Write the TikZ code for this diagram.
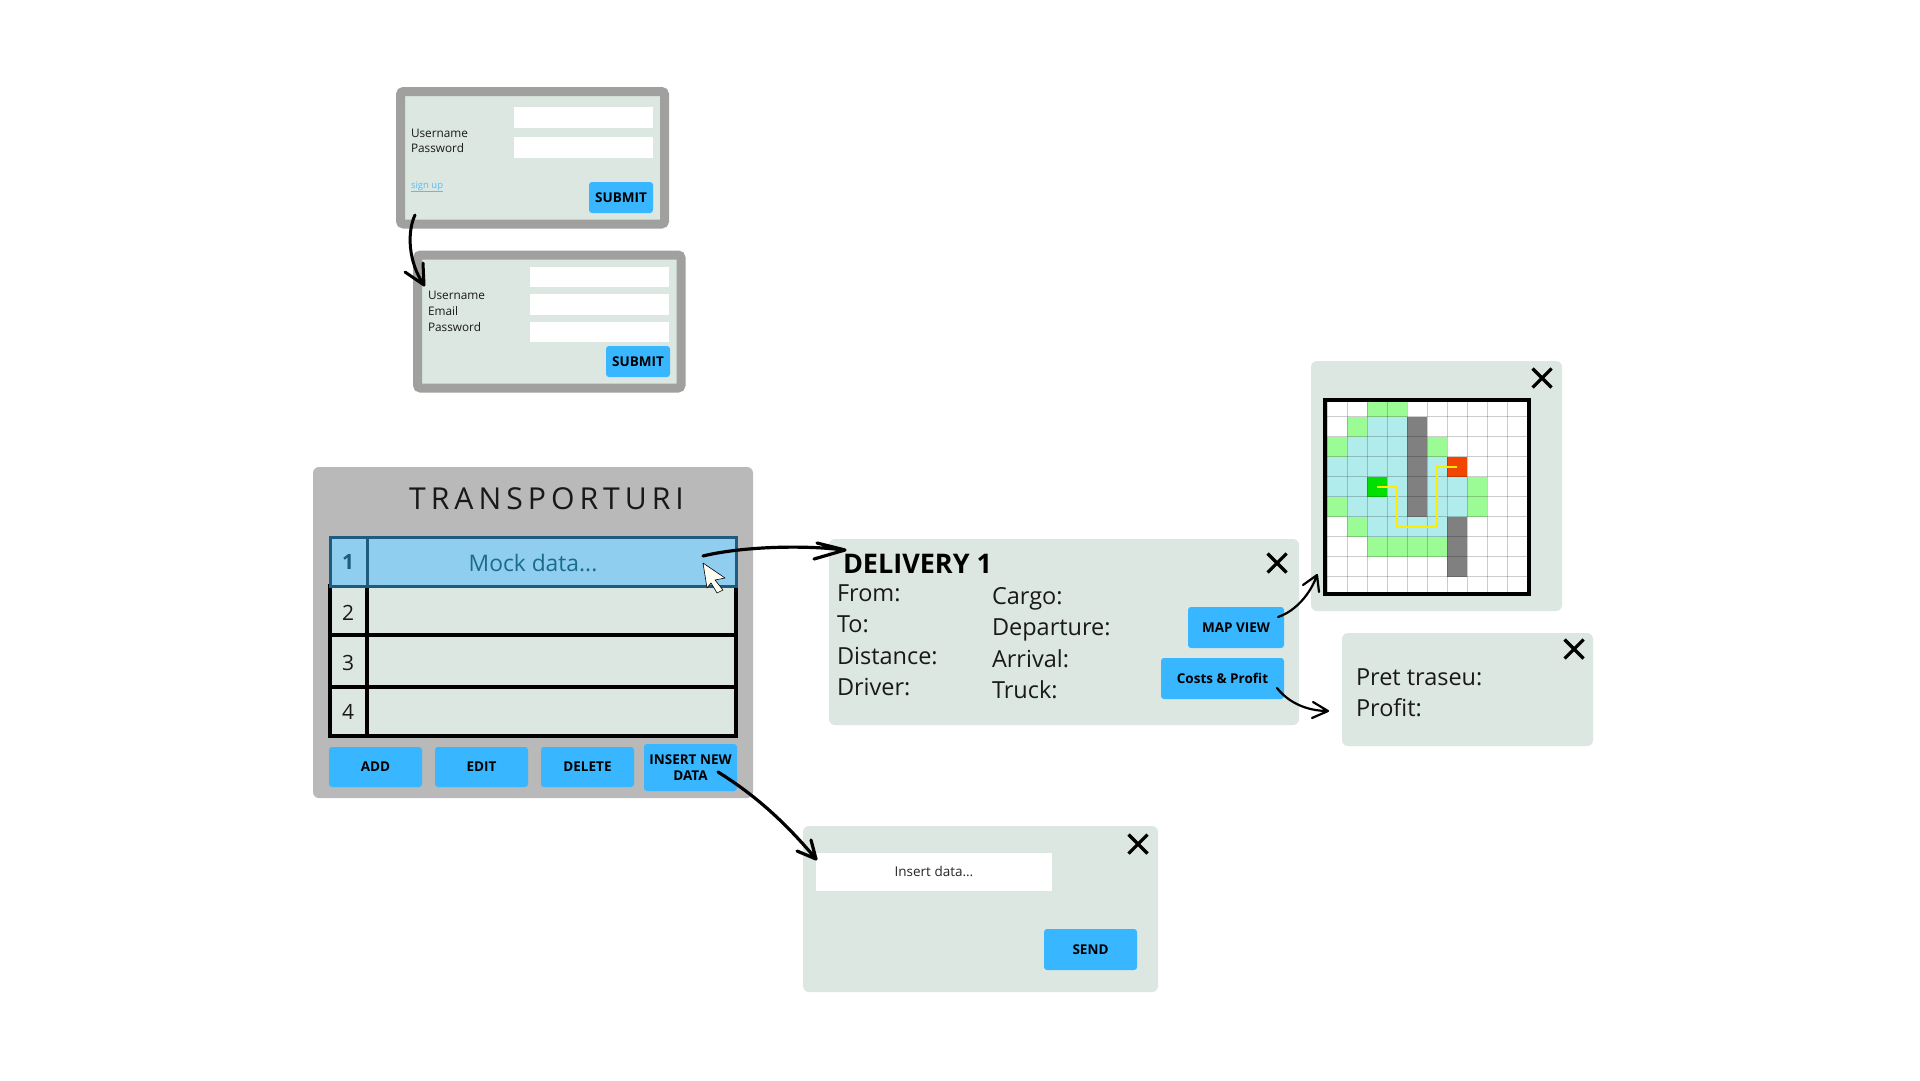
\documentclass[tikz,border=0pt]{standalone}
\usepackage{fontspec}
\setmainfont{Open Sans}
\definecolor{panel}{HTML}{DBE7E0}
\definecolor{btn}{HTML}{38B6FF}
\definecolor{frameg}{HTML}{A0A19F}
\definecolor{tpanel}{HTML}{B8B9B8}
\definecolor{rowblue}{HTML}{8FCEEF}
\definecolor{rowink}{HTML}{1D5B7F}
\definecolor{linkc}{HTML}{5ABDF5}
\definecolor{mgreen}{HTML}{9BFB94}
\definecolor{mcyan}{HTML}{B0ECEC}
\definecolor{mgray}{HTML}{808080}
\definecolor{mstart}{HTML}{00E000}
\definecolor{mend}{HTML}{F24500}
\newcommand{\fs}[1]{\fontsize{#1}{#1}\selectfont}
\newcommand{\bx}[7]{\node[box,#6,minimum width={(#4-(#2))*1pt},minimum height={(#5-(#3))*1pt}] (#1) at ({(#2+#4)/2},{(#3+#5)/2}) {#7};}
\newcommand{\closex}[3]{\coordinate (#1) at (#2,#3);
  \draw[xmark] ($(#1)+(-9.5,-9.5)$) -- ($(#1)+(9.5,9.5)$) ($(#1)+(-9.5,9.5)$) -- ($(#1)+(9.5,-9.5)$);}
\usetikzlibrary{calc}
\tikzset{
  box/.style={inner sep=0pt,outer sep=0pt,rectangle,align=center},
  pan/.style={fill=panel,rounded corners=6pt},
  loginframe/.style={fill=panel,draw=frameg,line width=9pt,rounded corners=3pt},
  field/.style={fill=white},
  btnbox/.style={fill=btn,rounded corners=3pt,font=\bfseries\fs{13.5},text=black},
  lbl/.style={inner sep=0pt,outer sep=0pt,anchor=base west,text=black!90},
  small/.style={lbl,font=\fs{11.8}},
  big/.style={lbl,font=\fs{23.5}},
  cell/.style={fill=panel,draw=black,line width=3.2pt,text=black!90},
  num/.style={lbl,anchor=base,font=\fs{21}},
  xmark/.style={draw=black,line width=3.2pt},
  hand/.style={draw=black,line width=#1,line cap=round,line join=round},
}
\begin{document}
\begin{tikzpicture}[x=1pt,y=-1pt]
\useasboundingbox (0,0) rectangle (1920,1080);
\fill[white] (0,0) rectangle (1920,1080);
% login
\bx{login}{400.5}{91.5}{664.5}{224}{loginframe}{}
\bx{lf1}{514}{107}{653}{128}{field}{}
\bx{lf2}{514}{137}{653}{158}{field}{}
\node[small] (lu) at (411,137) {Username};
\node[small] (lp) at (411,152) {Password};
\node[lbl,font=\fs{9.5},text=linkc] (ls) at (411,188) {\underline{sign up}};
\bx{lsub}{589}{182}{653}{213}{btnbox}{SUBMIT}
% signup
\bx{signup}{417.5}{255}{681}{388}{loginframe}{}
\bx{sf1}{530}{267}{669}{287}{field}{}
\bx{sf2}{530}{294}{669}{315}{field}{}
\bx{sf3}{530}{322}{669}{342}{field}{}
\node[small] (su) at (428,299) {Username};
\node[small] (se) at (428,315) {Email};
\node[small] (sp) at (428,331) {Password};
\bx{ssub}{606}{346}{670}{377}{btnbox}{SUBMIT}
% transport panel
\bx{tp}{313}{467}{753}{798}{fill=tpanel,rounded corners=6pt}{}
\node[lbl,anchor=base,font=\fs{30.2}] (title) at (546.5,509) {\addfontfeature{LetterSpace=16.5}TRANSPORTURI};
\bx{n2}{330}{586}{367}{635}{cell}{}
\bx{d2}{367}{586}{736}{635}{cell}{}
\bx{n3}{330}{635}{367}{687}{cell}{}
\bx{d3}{367}{635}{736}{687}{cell}{}
\bx{n4}{330}{687}{367}{736}{cell}{}
\bx{d4}{367}{687}{736}{736}{cell}{}
\bx{n1}{330}{537}{367}{586}{cell,line width=3pt,fill=rowblue,draw=rowink}{}
\bx{d1}{367}{537}{736}{586}{cell,line width=3pt,fill=rowblue,draw=rowink}{}
\node[num,font=\bfseries\fs{21},text=rowink] (t1n) at (348,569.5) {1};
\node[num] (t2n) at (348,620) {2};
\node[num] (t3n) at (348,670) {3};
\node[num] (t4n) at (348,719.5) {4};
\node[lbl,anchor=base,font=\fs{22.8},text=rowink!90!cyan] (mock) at (533,571) {Mock data...};
\draw[black,fill=black!3!yellow!5!white,line width=.6pt,line join=round] (703,563) -- (725,578) -- (715,580) -- (723,590) -- (717,593) -- (711,583) -- (707,588) -- cycle;
\bx{badd}{329}{747}{422}{787}{btnbox}{ADD}
\bx{bedit}{435}{747}{528}{787}{btnbox}{EDIT}
\bx{bdel}{541}{747}{634}{787}{btnbox}{DELETE}
\bx{bins}{644}{744}{737}{791}{btnbox}{INSERT NEW\\[3pt]DATA}
% delivery panel
\bx{deliv}{829}{539}{1299}{725}{pan}{}
\node[lbl,font=\bfseries\fs{27},text=black] (dt) at (843,573) {DELIVERY 1};
\node[big] (a1) at (837,601) {From:};
\node[big] (a2) at (837,632) {To:};
\node[big] (a3) at (837,664) {Distance:};
\node[big] (a4) at (837,695) {Driver:};
\node[big] (b1) at (992,604) {Cargo:};
\node[big] (b2) at (992,635) {Departure:};
\node[big] (b3) at (992,667) {Arrival:};
\node[big] (b4) at (992,698) {Truck:};
\bx{bmap}{1188}{607}{1284}{648}{btnbox}{MAP VIEW}
\bx{bcost}{1161}{658}{1284}{699}{btnbox}{Costs \& Profit}
\closex{xd}{1277}{563}
% map panel
\bx{mapp}{1311}{361}{1562}{611}{pan}{}
\closex{xm}{1542}{378}
\begin{scope}
\clip (1325,400) rectangle (1529,594);
\fill[white] (1325,400) rectangle (1529,594);
\foreach \c/\r/\k in {2/0/mgreen,3/0/mgreen,
 1/1/mgreen,2/1/mcyan,3/1/mcyan,4/1/mgray,
 0/2/mgreen,1/2/mcyan,2/2/mcyan,3/2/mcyan,4/2/mgray,5/2/mgreen,
 0/3/mcyan,1/3/mcyan,2/3/mcyan,3/3/mcyan,4/3/mgray,5/3/mcyan,6/3/mend,
 0/4/mcyan,1/4/mcyan,2/4/mstart,3/4/mcyan,4/4/mgray,5/4/mcyan,6/4/mcyan,7/4/mgreen,
 1/5/mcyan,2/5/mcyan,3/5/mcyan,4/5/mgray,5/5/mcyan,6/5/mcyan,7/5/mgreen,
 2/6/mcyan,3/6/mcyan,4/6/mcyan,5/6/mcyan,6/6/mgray,
 2/7/mgreen,3/7/mgreen,4/7/mgreen,5/7/mgreen,6/7/mgray,
 6/8/mgray,0/5/mgreen,1/6/mgreen}
  \fill[\k] ({1327+20*\c},{396.7+20*\r}) rectangle ++(20,20);
\foreach \i in {0,...,10} \draw[black,opacity=.2,line width=1pt] ({1327+20*\i},396) -- ({1327+20*\i},597);
\foreach \i in {0,...,10} \draw[black,opacity=.2,line width=1pt] (1325,{396.7+20*\i}) -- (1529,{396.7+20*\i});
\draw[yellow!95!orange,line width=1.7pt] (1377.3,486.7) -| (1396.7,526.7) -| (1437.3,466.7) -- (1456.7,466.7);
\end{scope}
\draw[black,line width=4pt] (1325,400) rectangle (1529,594);
% costs panel
\bx{cost}{1342}{633}{1593}{746}{pan}{}
\node[big] (c1) at (1356,685) {Pret traseu:};
\node[big] (c2) at (1356,716) {Profit:};
\closex{xc}{1574}{649}
% insert panel
\bx{ins}{803}{826}{1158}{992}{pan}{}
\bx{insf}{816}{853}{1052}{891}{field}{}
\node[lbl,anchor=base,font=\fs{13.5},text=black!85] (insl) at (934,876.5) {Insert data...};
\bx{bsend}{1044}{929}{1137}{970}{btnbox}{SEND}
\closex{xi}{1138}{844}
% connectors
\coordinate (s1) at (415,215); \coordinate (t1) at (424,285);
\draw[hand=3pt] (s1) .. controls (407,232) and (408,262) .. (t1) (405,272) -- (t1) -- (423,263);
\coordinate (s2) at (703,556); \coordinate (t2) at (845,550);
\draw[hand=3.2pt] (s2) .. controls (735,548) and (795,544) .. (t2) (817,543) -- (t2) -- (814,559);
\coordinate (s3) at (718,772); \coordinate (t3) at (816,859);
\draw[hand=3.2pt] (s3) .. controls (755,795) and (785,822) .. (t3) (797,851) -- (t3) -- (811,840);
\coordinate (s4) at (1278,617); \coordinate (t4) at (1317,575);
\draw[hand=2.2pt] (s4) .. controls (1296,611) and (1311,593) .. (t4) (1303,585) -- (t4) -- (1319,592);
\coordinate (s5) at (1277,688); \coordinate (t5) at (1328,711);
\draw[hand=2.2pt] (s5) .. controls (1288,702) and (1306,711) .. (t5) (1313,702) -- (t5) -- (1312,718);
\end{tikzpicture}
\end{document}
